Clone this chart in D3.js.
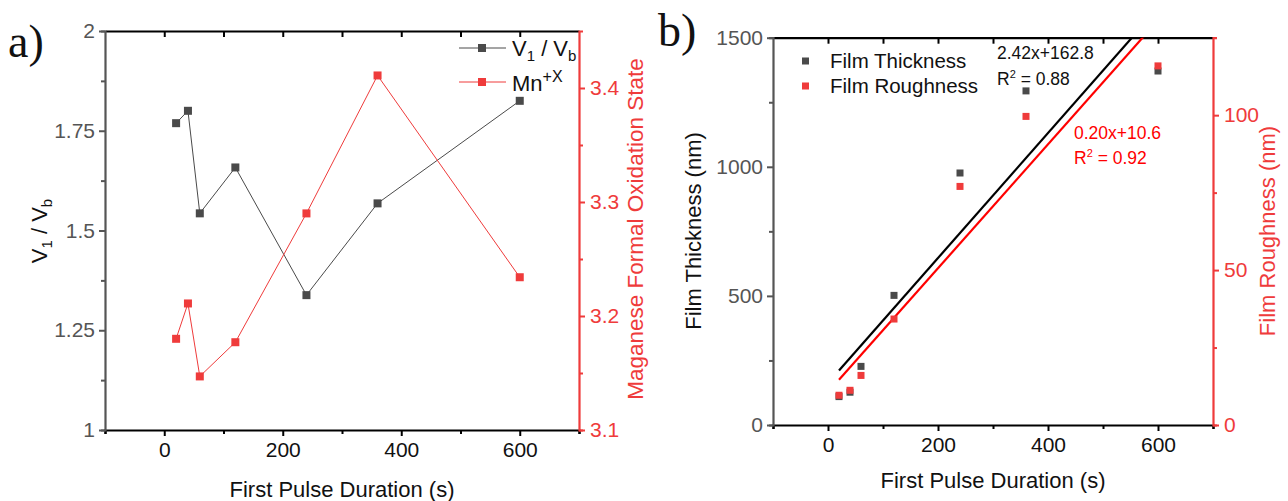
<!DOCTYPE html>
<html><head><meta charset="utf-8">
<script src="https://cdn.jsdelivr.net/npm/d3@7"></script>
<style>
body{margin:0;background:#fff}
svg{display:block;font-family:"Liberation Sans",Arial,sans-serif}
</style></head><body>
<svg id="c" width="1288" height="501"></svg>
<script>
// ---- data ----
const durations = [20, 40, 60, 120, 240, 360, 600];
const v1vb = [1.769, 1.80, 1.543, 1.658, 1.338, 1.568, 1.825];
const mnOx = [3.180, 3.211, 3.147, 3.177, 3.290, 3.411, 3.234];
const thickness = [110, 127, 227, 502, 976, 1294, 1371];
const roughness = [9.6, 11.2, 16.0, 34.2, 77.0, 99.6, 115.9];
const thickFit = [2.42, 162.8];
const roughFit = [0.20, 10.6];
const fitRange = [20, 600];
const xMajor = [0, 200, 400, 600];
const xMinor = [-100, 100, 300, 500, 700];
const xTop = [0, 100, 200, 300, 400, 500, 600];
const v1Major = [1, 1.25, 1.5, 1.75, 2];
const v1Minor = [1.125, 1.375, 1.625, 1.875];
const v1Labels = ["1", "1.25", "1.5", "1.75", "2"];
const mnMajor = [3.1, 3.2, 3.3, 3.4];
const mnMinor = [3.15, 3.25, 3.35];
const thMajor = [0, 500, 1000, 1500];
const thMinor = [250, 750, 1250];
const roMajor = [0, 50, 100];
const roMinor = [25, 75];

const RED = "#ef3b3b", DARK = "#4a4a4a", GREY = "#555";
const svg = d3.select("#c");

function styleAxis(g, color, width) {
  g.select(".domain").attr("stroke", color).attr("stroke-width", width);
  g.selectAll(".tick line").attr("stroke", color).attr("stroke-width", 2);
  g.selectAll(".tick text").attr("fill", color).attr("font-size", 21).attr("font-family", "Liberation Sans, Arial, sans-serif");
}

function panel(cfg) {
  const {x, yL, yR} = cfg;
  const [x0, x1] = x.range(); const [yb, yt] = yL.range();
  svg.append("g").attr("transform", `translate(0,${yb})`)
    .call(d3.axisBottom(x).tickValues(xMinor).tickSize(4).tickFormat(""))
    .call(g => { styleAxis(g, "#000", 2.2); });
  svg.append("g").attr("transform", `translate(0,${yb})`)
    .call(d3.axisBottom(x).tickValues(xMajor).tickSize(6).tickPadding(6).tickFormat(d3.format("d")))
    .call(g => { styleAxis(g, "#000", 2.2); g.select(".domain").remove(); g.selectAll("text").attr("fill", "#111"); });
  svg.append("g").attr("transform", `translate(0,${yt})`)
    .call(d3.axisTop(x).tickValues(xTop).tickSizeInner(-6).tickSizeOuter(0).tickFormat(""))
    .call(g => styleAxis(g, "#000", 2.2));
  svg.append("g").attr("transform", `translate(${x0},0)`)
    .call(d3.axisLeft(yL).tickValues(cfg.lMinor).tickSize(4).tickFormat(""))
    .call(g => styleAxis(g, GREY, 2.2));
  svg.append("g").attr("transform", `translate(${x0},0)`)
    .call(d3.axisLeft(yL).tickValues(cfg.lMajor).tickSize(6).tickPadding(4).tickFormat(cfg.lFormat))
    .call(g => { styleAxis(g, GREY, 2.2); g.select(".domain").remove(); });
  svg.append("g").attr("transform", `translate(${x1},0)`)
    .call(d3.axisRight(yR).tickValues(cfg.rMinor).tickSize(4).tickFormat(""))
    .call(g => styleAxis(g, RED, 2.2));
  svg.append("g").attr("transform", `translate(${x1},0)`)
    .call(d3.axisRight(yR).tickValues(cfg.rMajor).tickSize(6).tickPadding(5).tickFormat(cfg.rFormat))
    .call(g => { styleAxis(g, RED, 2.2); g.select(".domain").remove(); });
  svg.append("text").attr("x", (x0 + x1) / 2).attr("y", cfg.xTitleY)
    .attr("text-anchor", "middle").attr("font-size", 22).attr("fill", "#111")
    .text("First Pulse Duration (s)");
}

// ===== Panel a =====
const xa = d3.scaleLinear().domain([-100, 700]).range([105, 579]);
const ya = d3.scaleLinear().domain([1, 2]).range([430, 31]);
const ya2 = d3.scaleLinear().domain([3.1, 3.45]).range([430, 31]);
panel({x: xa, yL: ya, yR: ya2, lMajor: v1Major, lMinor: v1Minor,
  lFormat: (d, i) => v1Labels[i], rMajor: mnMajor, rMinor: mnMinor,
  rFormat: d3.format(".1f"), xTitleY: 497});

const lineA = d3.line().x(d => xa(d[0])).y(d => d[1]);
const ptsV = durations.map((d, i) => [d, ya(v1vb[i])]);
const ptsM = durations.map((d, i) => [d, ya2(mnOx[i])]);
svg.append("path").attr("d", lineA(ptsV)).attr("fill", "none").attr("stroke", DARK).attr("stroke-width", 1);
svg.append("path").attr("d", lineA(ptsM)).attr("fill", "none").attr("stroke", RED).attr("stroke-width", 1);
svg.append("g").selectAll("rect").data(ptsV).join("rect")
  .attr("x", d => xa(d[0]) - 4).attr("y", d => d[1] - 4).attr("width", 8).attr("height", 8).attr("fill", DARK);
svg.append("g").selectAll("rect").data(ptsM).join("rect")
  .attr("x", d => xa(d[0]) - 4).attr("y", d => d[1] - 4).attr("width", 8).attr("height", 8).attr("fill", RED);

// legend a
[[48, DARK], [82, RED]].forEach(([y, c]) => {
  svg.append("line").attr("x1", 459).attr("x2", 506).attr("y1", y).attr("y2", y).attr("stroke", c).attr("stroke-width", 1);
  svg.append("rect").attr("x", 478).attr("y", y - 4).attr("width", 8).attr("height", 8).attr("fill", c);
});
const lg1 = svg.append("text").attr("x", 512).attr("y", 56).attr("font-size", 22).attr("fill", "#111");
lg1.append("tspan").text("V");
lg1.append("tspan").attr("font-size", 15).attr("dy", 5).text("1");
lg1.append("tspan").attr("dy", -5).text(" / V");
lg1.append("tspan").attr("font-size", 15).attr("dy", 5).text("b");
const lg2 = svg.append("text").attr("x", 512).attr("y", 91).attr("font-size", 22).attr("fill", "#111");
lg2.append("tspan").text("Mn");
lg2.append("tspan").attr("font-size", 16).attr("dy", -9).text("+X");

// y titles a
const yt1 = svg.append("text").attr("transform", "translate(47,231) rotate(-90)")
  .attr("text-anchor", "middle").attr("font-size", 22).attr("fill", "#111");
yt1.append("tspan").text("V");
yt1.append("tspan").attr("font-size", 15).attr("dy", 5).text("1");
yt1.append("tspan").attr("dy", -5).text(" / V");
yt1.append("tspan").attr("font-size", 15).attr("dy", 5).text("b");
svg.append("text").attr("transform", "translate(643,229) rotate(-90)")
  .attr("text-anchor", "middle").attr("font-size", 22.5).attr("fill", RED)
  .text("Maganese Formal Oxidation State");

svg.append("text").attr("x", 8).attr("y", 57).attr("font-family", "Liberation Serif, Times New Roman, serif")
  .attr("font-size", 46).attr("fill", "#111").text("a)");

// ===== Panel b =====
const xb = d3.scaleLinear().domain([-100, 700]).range([773, 1213]);
const yb = d3.scaleLinear().domain([0, 1500]).range([425, 37.7]);
const yb2 = d3.scaleLinear().domain([0, 125]).range([425, 37.7]);
panel({x: xb, yL: yb, yR: yb2, lMajor: thMajor, lMinor: thMinor,
  lFormat: d3.format("d"), rMajor: roMajor, rMinor: roMinor,
  rFormat: d3.format("d"), xTitleY: 488});

svg.append("defs").append("clipPath").attr("id", "clipB").append("rect")
  .attr("x", 773).attr("y", 37.7).attr("width", 440).attr("height", 387.3);
const fitG = svg.append("g").attr("clip-path", "url(#clipB)");
fitG.append("line")
  .attr("x1", xb(fitRange[0])).attr("y1", yb(thickFit[0] * fitRange[0] + thickFit[1]))
  .attr("x2", xb(fitRange[1])).attr("y2", yb(thickFit[0] * fitRange[1] + thickFit[1]))
  .attr("stroke", "#000").attr("stroke-width", 2.2);
fitG.append("line")
  .attr("x1", xb(fitRange[0])).attr("y1", yb2(roughFit[0] * fitRange[0] + roughFit[1]))
  .attr("x2", xb(fitRange[1])).attr("y2", yb2(roughFit[0] * fitRange[1] + roughFit[1]))
  .attr("stroke", "#ff0000").attr("stroke-width", 2.2);

svg.append("g").selectAll("rect").data(durations).join("rect")
  .attr("x", (d) => xb(d) - 3.5).attr("y", (d, i) => yb(thickness[i]) - 3.5)
  .attr("width", 7).attr("height", 7).attr("fill", DARK);
svg.append("g").selectAll("rect").data(durations).join("rect")
  .attr("x", (d) => xb(d) - 3.5).attr("y", (d, i) => yb2(roughness[i]) - 3.5)
  .attr("width", 7).attr("height", 7).attr("fill", RED);

// legend b
[[61, DARK, "Film Thickness"], [86, RED, "Film Roughness"]].forEach(([y, c, t]) => {
  svg.append("rect").attr("x", 802).attr("y", y - 3.5).attr("width", 7).attr("height", 7).attr("fill", c);
  svg.append("text").attr("x", 830).attr("y", y + 7).attr("font-size", 20.5).attr("fill", "#111").text(t);
});

// annotations
svg.append("text").attr("x", 997).attr("y", 59).attr("font-size", 17.5).attr("fill", "#111").text("2.42x+162.8");
const r1 = svg.append("text").attr("x", 997).attr("y", 85).attr("font-size", 17.5).attr("fill", "#111");
r1.append("tspan").text("R"); r1.append("tspan").attr("font-size", 11).attr("dy", -7).text("2");
r1.append("tspan").attr("dy", 7).text(" = 0.88");
svg.append("text").attr("x", 1074).attr("y", 139).attr("font-size", 17.5).attr("fill", "#ff0000").text("0.20x+10.6");
const r2 = svg.append("text").attr("x", 1074).attr("y", 164).attr("font-size", 17.5).attr("fill", "#ff0000");
r2.append("tspan").text("R"); r2.append("tspan").attr("font-size", 11).attr("dy", -7).text("2");
r2.append("tspan").attr("dy", 7).text(" = 0.92");

svg.append("text").attr("transform", "translate(701,231) rotate(-90)")
  .attr("text-anchor", "middle").attr("font-size", 22).attr("fill", "#111").text("Film Thickness (nm)");
svg.append("text").attr("transform", "translate(1275,231) rotate(-90)")
  .attr("text-anchor", "middle").attr("font-size", 22).attr("fill", RED).text("Film Roughness (nm)");

svg.append("text").attr("x", 658).attr("y", 46).attr("font-family", "Liberation Serif, Times New Roman, serif")
  .attr("font-size", 46).attr("fill", "#111").text("b)");
</script></body></html>
